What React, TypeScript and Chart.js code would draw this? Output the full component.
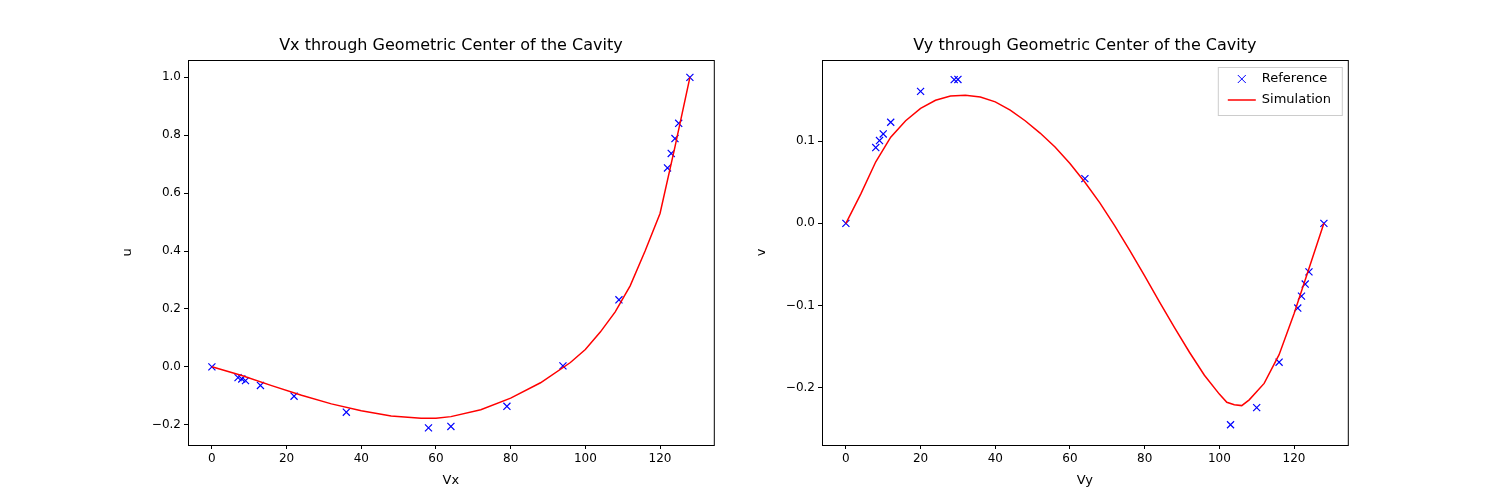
import React, { useEffect, useRef } from "react";
import Chart from "chart.js/auto";

// Ghia et al. reference points, Re = 100
const uRefX = [0, 7, 8, 9, 13, 22, 36, 58, 64, 79, 94, 109, 122, 123, 124, 125, 128];
const uRefY = [0, -0.03717, -0.04192, -0.04775, -0.06434, -0.1015, -0.15662, -0.2109, -0.20581, -0.13641, 0.00332, 0.23151, 0.68717, 0.73722, 0.78871, 0.84123, 1.0];
const vRefX = [0, 8, 9, 10, 12, 20, 29, 30, 64, 103, 110, 116, 121, 122, 123, 124, 128];
const vRefY = [0, 0.09233, 0.10091, 0.1089, 0.12317, 0.16077, 0.17507, 0.17527, 0.05454, -0.24533, -0.22445, -0.16914, -0.10313, -0.08864, -0.07391, -0.05906, 0];

// simulation curves
const uSimX = [0, 8, 16, 24, 32, 40, 48, 56, 60, 64, 72, 80, 88, 96, 100, 104, 108, 112, 116, 120, 124, 128];
const uSimY = [0, -0.03, -0.065, -0.098, -0.128, -0.152, -0.17, -0.178, -0.178, -0.172, -0.148, -0.108, -0.055, 0.015, 0.06, 0.12, 0.19, 0.28, 0.4, 0.53, 0.76, 1.0];
const vSimX = [0, 4, 8, 12, 16, 20, 24, 28, 32, 36, 40, 44, 48, 52, 56, 60, 64, 68, 72, 76, 80, 84, 88, 92, 96, 100, 102, 104, 106, 108, 112, 116, 120, 124, 128];
const vSimY = [0, 0.036, 0.075, 0.105, 0.125, 0.14, 0.15, 0.155, 0.156, 0.154, 0.148, 0.138, 0.125, 0.11, 0.093, 0.073, 0.05, 0.025, -0.003, -0.033, -0.064, -0.096, -0.127, -0.157, -0.185, -0.208, -0.218, -0.221, -0.222, -0.215, -0.195, -0.16, -0.11, -0.055, 0];

const FONT = "DejaVu Sans";

const pts = (xs: number[], ys: number[]) => xs.map((x, i) => ({ x, y: ys[i] }));

const framePlugin = (title: string, legend: boolean) => ({
  id: "frame",
  afterDraw(chart: any) {
    const { ctx, chartArea: a } = chart;
    ctx.save();
    ctx.strokeStyle = "#000";
    ctx.lineWidth = 1;
    ctx.strokeRect(a.left + 0.5, a.top + 0.5, a.right - a.left, a.bottom - a.top);
    ctx.fillStyle = "#000";
    ctx.font = `16px ${FONT}`;
    ctx.textAlign = "center";
    ctx.textBaseline = "bottom";
    ctx.fillText(title, (a.left + a.right) / 2, a.top - 6);
    if (legend) {
      const w = 124, h = 48, x0 = a.right - w - 6, y0 = a.top + 7;
      ctx.fillStyle = "rgba(255,255,255,0.8)";
      ctx.strokeStyle = "#ccc";
      ctx.fillRect(x0, y0, w, h);
      ctx.strokeRect(x0 + 0.5, y0 + 0.5, w, h);
      ctx.font = `13px ${FONT}`;
      ctx.textAlign = "left";
      ctx.textBaseline = "middle";
      ctx.strokeStyle = "blue";
      const cx = x0 + 24, cy = y0 + 12;
      ctx.beginPath();
      ctx.moveTo(cx - 4, cy - 4); ctx.lineTo(cx + 4, cy + 4);
      ctx.moveTo(cx - 4, cy + 4); ctx.lineTo(cx + 4, cy - 4);
      ctx.stroke();
      ctx.fillStyle = "#000";
      ctx.fillText("Reference", x0 + 44, cy);
      ctx.strokeStyle = "red";
      ctx.lineWidth = 1.5;
      ctx.beginPath();
      ctx.moveTo(x0 + 10, y0 + 33); ctx.lineTo(x0 + 38, y0 + 33);
      ctx.stroke();
      ctx.fillText("Simulation", x0 + 44, y0 + 33);
    }
    ctx.restore();
  },
});

function Panel(props: any) {
  const ref = useRef<HTMLCanvasElement>(null);
  useEffect(() => {
    if (!ref.current) return;
    const tickFont = { family: FONT, size: 12 };
    const chart = new Chart(ref.current, {
      type: "scatter",
      data: {
        datasets: [
          {
            label: "Simulation",
            data: pts(props.simX, props.simY),
            showLine: true,
            borderColor: "red",
            borderWidth: 1.5,
            pointRadius: 0,
          },
          {
            label: "Reference",
            data: pts(props.refX, props.refY),
            pointStyle: "crossRot",
            pointRadius: 5,
            borderColor: "blue",
            borderWidth: 1.2,
          },
        ],
      },
      options: {
        animation: false,
        responsive: false,
        layout: { padding: { top: 30, right: 5 } },
        plugins: { legend: { display: false }, tooltip: { enabled: false } },
        scales: {
          x: {
            type: "linear",
            min: props.xMin, max: props.xMax,
            afterBuildTicks: (s: any) => { s.ticks = [0, 20, 40, 60, 80, 100, 120].map((v) => ({ value: v })); },
            grid: { drawOnChartArea: false, tickLength: 4, color: "#000" },
            border: { display: false },
            ticks: { color: "#000", font: tickFont, maxRotation: 0 },
            title: { display: true, text: props.xLabel, color: "#000", font: { family: FONT, size: 13 }, padding: { top: 0, bottom: 12 } },
            afterFit: (s: any) => { s.height = 55; },
          },
          y: {
            min: props.yMin, max: props.yMax,
            afterBuildTicks: (s: any) => { s.ticks = props.yTicks.map((v: number) => ({ value: v })); },
            grid: { drawOnChartArea: false, tickLength: 4, color: "#000" },
            border: { display: false },
            ticks: { color: "#000", font: tickFont, callback: (v: any) => Number(v).toFixed(1).replace("-", "\u2212") },
            title: { display: true, text: props.yLabel, color: "#000", font: { family: FONT, size: 13 }, padding: 0 },
            afterFit: (s: any) => { s.width = 68; },
          },
        },
      },
      plugins: [framePlugin(props.title, props.legend)],
    });
    return () => chart.destroy();
  }, []);
  return (
    <div style={{ position: "absolute", left: props.left, top: 30, width: 600, height: 470 }}>
      <canvas ref={ref} width={600} height={470} />
    </div>
  );
}

export default function App() {
  useEffect(() => { document.body.style.margin = "0"; }, []);
  return (
    <div style={{ position: "relative", width: 1500, height: 500, background: "#fff" }}>
      <Panel left={120} title="Vx through Geometric Center of the Cavity" xLabel="Vx" yLabel="u"
        refX={uRefX} refY={uRefY} simX={uSimX} simY={uSimY}
        xMin={-6.4} xMax={134.4} yMin={-0.27} yMax={1.06} yTicks={[-0.2, 0, 0.2, 0.4, 0.6, 0.8, 1.0]} legend={false} />
      <Panel left={754} title="Vy through Geometric Center of the Cavity" xLabel="Vy" yLabel="v"
        refX={vRefX} refY={vRefY} simX={vSimX} simY={vSimY}
        xMin={-6.4} xMax={134.4} yMin={-0.27} yMax={0.199} yTicks={[-0.2, -0.1, 0, 0.1]} legend={true} />
    </div>
  );
}
